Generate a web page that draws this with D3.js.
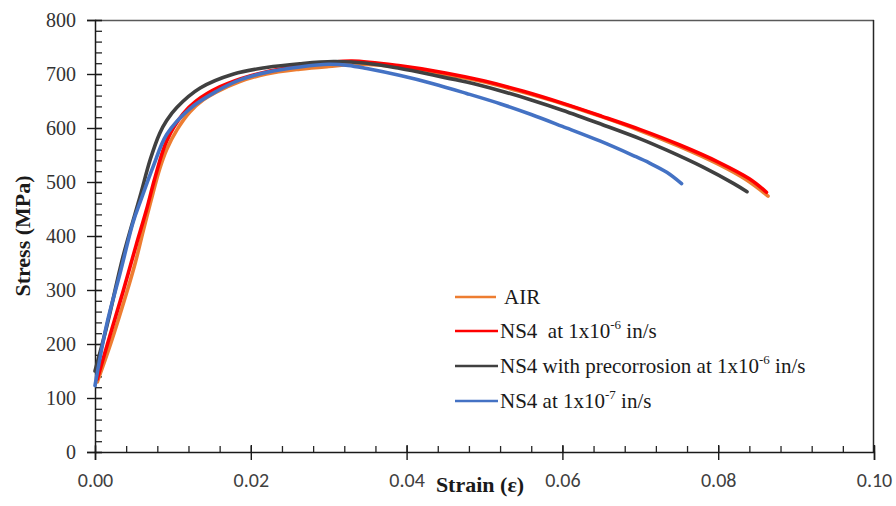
<!DOCTYPE html>
<html>
<head>
<meta charset="utf-8">
<script src="https://cdn.jsdelivr.net/npm/d3@7"></script>
<style>
  html, body { margin: 0; padding: 0; background: #fff; }
  svg { display: block; }
  .legend text { white-space: pre; }
</style>
</head>
<body>
<svg id="chart" width="896" height="506"></svg>
<script>
// Stress–strain curves: [strain, stress in MPa]
const airCurve = [
  [0.0003,130],[0.002,200],[0.004,292],[0.0052,352],[0.0062,410],[0.0072,466],[0.0083,524],
  [0.0092,560],[0.0105,596],[0.0122,630],[0.0139,652],[0.0155,666],[0.0186,686],[0.022,700],
  [0.0263,709],[0.030,714],[0.034,718],[0.039,713],[0.045,699],[0.050,685],[0.055,666],
  [0.060,645],[0.065,621],[0.070,595],[0.075,566],[0.080,533],[0.0835,505],[0.0864,474]
];
const ns4FastCurve = [
  [0.0003,135],[0.0019,215],[0.0036,297],[0.0053,384],[0.0066,448],[0.0077,508],[0.0092,576],
  [0.0113,626],[0.013,650],[0.016,676],[0.020,697],[0.025,712],[0.030,721],[0.033,724],
  [0.0392,715],[0.045,702],[0.050,687],[0.055,668],[0.060,646],[0.065,622],[0.070,597],
  [0.075,569],[0.080,537],[0.084,506],[0.0862,481]
];
const ns4PrecorrCurve = [
  [0.0,150],[0.0015,232],[0.0036,362],[0.0058,474],[0.0071,542],[0.0083,590],[0.0092,614],
  [0.0105,638],[0.0135,674],[0.0178,700],[0.022,712],[0.0263,719],[0.0306,723],[0.0349,720],
  [0.0392,710],[0.0434,698],[0.0477,685],[0.052,669],[0.056,652],[0.060,633],[0.065,607],
  [0.070,580],[0.0734,559],[0.078,528],[0.082,497],[0.0837,482]
];
const ns4SlowCurve = [
  [0.0,123],[0.0015,236],[0.0032,330],[0.0049,426],[0.0058,463],[0.0075,530],[0.0092,588],
  [0.0122,636],[0.0156,668],[0.0186,689],[0.022,703],[0.0263,713],[0.030,718],[0.0325,716],
  [0.0349,710],[0.0392,697],[0.0434,682],[0.0477,664],[0.052,645],[0.056,625],[0.060,603],
  [0.0648,576],[0.0691,549],[0.0712,535],[0.0734,518],[0.0753,497]
];

const seriesColors = ["#ED7D31", "#FF0000", "#404040", "#4472C4"];
const seriesData = [airCurve, ns4FastCurve, ns4PrecorrCurve, ns4SlowCurve];

// Legend entries: [main text, superscript, trailing text]
const legendLabels = [
  [" AIR", "", ""],
  ["NS4  at 1x10", "-6", " in/s"],
  ["NS4 with precorrosion at 1x10", "-6", " in/s"],
  ["NS4 at 1x10", "-7", " in/s"]
];

const xTicks = [0, 0.02, 0.04, 0.06, 0.08, 0.10];
const yTicks = [0, 100, 200, 300, 400, 500, 600, 700, 800];
const xMinorTicks = d3.range(0, 0.1001, 0.004);
const yMinorTicks = d3.range(0, 801, 20);

const svg = d3.select("#chart");
const plotLeft = 95, plotRight = 874, plotTop = 20, plotBottom = 452;

const x = d3.scaleLinear().domain([0, 0.10]).range([plotLeft, plotRight]);
const y = d3.scaleLinear().domain([0, 800]).range([plotBottom, plotTop]);

// frame: top and right edges
svg.append("line").attr("x1", plotLeft).attr("x2", plotRight)
  .attr("y1", plotTop + 0.5).attr("y2", plotTop + 0.5)
  .attr("stroke", "#595959").attr("stroke-width", 1.5);
svg.append("line").attr("x1", plotRight - 0.5).attr("x2", plotRight - 0.5)
  .attr("y1", plotTop).attr("y2", plotBottom)
  .attr("stroke", "#262626").attr("stroke-width", 1.5);

// minor ticks (inside)
svg.append("g").attr("transform", `translate(${plotLeft},0)`)
  .call(d3.axisRight(y).tickValues(yMinorTicks).tickSize(7).tickFormat(""))
  .call(g => g.select(".domain").remove())
  .selectAll("line").attr("stroke", "#262626").attr("stroke-width", 1.3);
svg.append("g").attr("transform", `translate(0,${plotBottom})`)
  .call(d3.axisTop(x).tickValues(xMinorTicks).tickSize(6).tickFormat(""))
  .call(g => g.select(".domain").remove())
  .selectAll("line").attr("stroke", "#262626").attr("stroke-width", 1.3);

// y axis
const yAxis = svg.append("g").attr("transform", `translate(${plotLeft},0)`)
  .call(d3.axisLeft(y).tickValues(yTicks).tickSize(8).tickPadding(11).tickFormat(d3.format("d")));
yAxis.select(".domain").attr("stroke", "#1a1a1a").attr("stroke-width", 1.5);
yAxis.selectAll(".tick line").attr("x1", 7).attr("stroke", "#1a1a1a").attr("stroke-width", 1.4);
yAxis.selectAll(".tick text")
  .attr("font-family", "'Liberation Serif', 'Times New Roman', serif")
  .attr("font-size", 20).attr("fill", "#333");

// x axis
const xAxis = svg.append("g").attr("transform", `translate(0,${plotBottom})`)
  .call(d3.axisBottom(x).tickValues(xTicks).tickSize(8).tickPadding(13).tickFormat(d3.format(".2f")));
xAxis.select(".domain").attr("stroke", "#1a1a1a").attr("stroke-width", 1.5);
xAxis.selectAll(".tick line").attr("y1", -7).attr("stroke", "#1a1a1a").attr("stroke-width", 1.4);
xAxis.selectAll(".tick text")
  .attr("font-family", "Carlito, Lato, 'Open Sans', sans-serif")
  .attr("font-size", 20).attr("fill", "#404040");

// axis titles
svg.append("text")
  .attr("x", 480).attr("y", 492).attr("text-anchor", "middle")
  .attr("font-family", "'Liberation Serif', 'Times New Roman', serif")
  .attr("font-weight", "bold").attr("font-size", 22).attr("fill", "#1a1a1a")
  .text("Strain (ε)");
svg.append("text")
  .attr("transform", "translate(30,236) rotate(-90)").attr("text-anchor", "middle")
  .attr("font-family", "'Liberation Serif', 'Times New Roman', serif")
  .attr("font-weight", "bold").attr("font-size", 22).attr("fill", "#1a1a1a")
  .text("Stress (MPa)");

// curves
const line = d3.line().x(d => x(d[0])).y(d => y(d[1])).curve(d3.curveCatmullRom.alpha(0.5));
svg.append("g").selectAll("path").data(seriesData).join("path")
  .attr("d", line)
  .attr("fill", "none")
  .attr("stroke", (d, i) => seriesColors[i])
  .attr("stroke-width", 3.6)
  .attr("stroke-linecap", "round")
  .attr("stroke-linejoin", "round");

// legend
const legend = svg.append("g").attr("class", "legend");
const rowY = [297, 331, 366, 401];
legendLabels.forEach((lab, i) => {
  legend.append("line")
    .attr("x1", 455).attr("x2", i === 0 ? 496 : 498)
    .attr("y1", rowY[i]).attr("y2", rowY[i])
    .attr("stroke", seriesColors[i]).attr("stroke-width", 2.6);
  const t = legend.append("text")
    .attr("x", 500).attr("y", rowY[i] + 7)
    .attr("font-family", "'Liberation Serif', 'Times New Roman', serif")
    .attr("font-size", 21).attr("fill", "#1a1a1a");
  t.append("tspan").text(lab[0]);
  if (lab[1]) {
    t.append("tspan").attr("dy", -9).attr("font-size", 13).text(lab[1]);
    t.append("tspan").attr("dy", 9).text(lab[2]);
  }
});
</script>
</body>
</html>
